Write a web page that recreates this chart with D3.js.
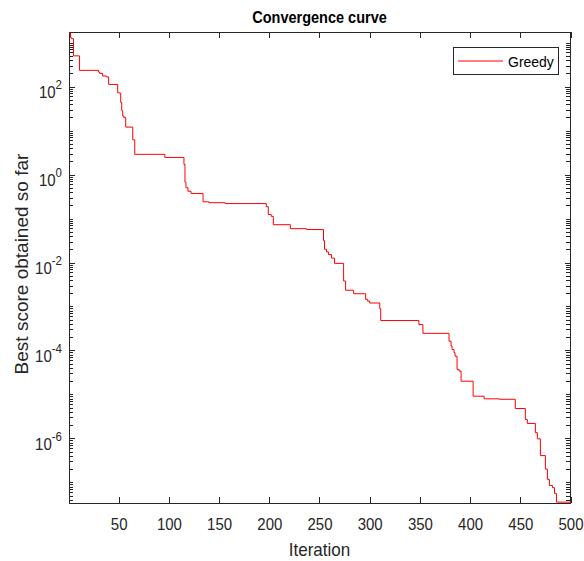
<!DOCTYPE html>
<html>
<head>
<meta charset="utf-8">
<script src="https://cdn.jsdelivr.net/npm/d3@7"></script>
<style>
  body { margin: 0; background: #fff; }
  svg { display: block; font-family: "Liberation Sans", Arial, sans-serif; }
</style>
</head>
<body>
<div class="js-convergence-chart"></div>
<script>
// iterations where the best score changes, and the new best score
var iterations = [
  1, 2, 3, 5, 11, 30, 31, 34, 38, 40, 49, 51, 52, 53, 54, 55, 57, 64, 66, 96,
  115, 116, 117, 119, 122, 134, 140, 156, 197, 199, 202, 204, 221, 237, 254, 255, 257, 259, 262, 265,
  274, 276, 284, 296, 298, 300, 310, 311, 349, 353, 379, 381, 382, 384, 385, 387, 389, 391, 403, 414,
  429, 445, 455, 457, 465, 467, 470, 475, 477, 479, 482, 484, 486, 500
];
var bestScores = [
  1.70e3, 1.29e3, 1.23e3, 5.0e2, 2.34e2, 2.14e2, 2.0e2, 1.74e2, 1.66e2, 1.12e2,
  72.4, 70.8, 43.6, 28.2, 21.4, 20.0, 12.0, 6.17, 2.88, 2.45,
  1.70, 0.676, 0.501, 0.417, 0.372, 0.240, 0.229, 0.219, 0.186, 0.123,
  0.112, 0.0724, 0.0589, 0.0562, 0.0316, 0.0200, 0.0174, 0.0151, 0.0126, 9.55e-3,
  3.80e-3, 2.34e-3, 1.95e-3, 1.45e-3, 1.32e-3, 1.20e-3, 8.91e-4, 4.79e-4, 3.89e-4, 2.45e-4,
  1.62e-4, 1.26e-4, 1.05e-4, 8.91e-5, 7.41e-5, 3.72e-5, 3.39e-5, 2.00e-5, 9.12e-6, 7.94e-6,
  7.76e-6, 4.79e-6, 2.69e-6, 2.19e-6, 1.35e-6, 9.77e-7, 4.07e-7, 2.00e-7, 1.17e-7, 8.51e-8,
  7.59e-8, 5.62e-8, 3.55e-8, 3.31e-8
];
var xTicks = [50, 100, 150, 200, 250, 300, 350, 400, 450, 500];
var yTickExponents = [-6, -4, -2, 0, 2];
var seriesName = 'Greedy';
var titleText = 'Convergence curve'
  , xLabelText = 'Iteration'
  , yLabelText = 'Best score obtained so far';

(function() {
  var width = 584
    , height = 561
    , margin = { top: 32, right: 14, bottom: 58, left: 69 }
    , innerW = width - margin.left - margin.right
    , innerH = height - margin.top - margin.bottom
    , axisColor = '#262626'
    , lineColor = '#ff0000'
    , stretch = 1.1   // text in the original is drawn a little taller than wide
    , data = iterations.map((it, i) => ({ iter: it, score: bestScores[i] }))
    ;

  var x = d3.scaleLinear()
        .domain([1, 500])
        .range([0.5, innerW + 0.5])
    , y = d3.scaleLog()
        .domain(d3.extent(bestScores))
        .range([innerH + 0.5, 0.5])
    , majorY = yTickExponents.map(e => Math.pow(10, e))
    , minorY = []
    ;

  // every m x 10^k inside the domain, except the labelled decades
  for (var k = -9; k <= 4; k++) {
    for (var m = 1; m <= 9; m++) {
      var v = m * Math.pow(10, k);
      if (v < y.domain()[0] || v > y.domain()[1]) continue;
      if (m === 1 && yTickExponents.indexOf(k) >= 0) continue;
      minorY.push(v);
    }
  }

  var svg = d3.select('.js-convergence-chart')
        .append('svg')
          .attr('width', width)
          .attr('height', height)
    , g = svg.append('g')
        .attr('transform', 'translate(' + margin.left + ',' + margin.top + ')')
    ;

  svg.insert('rect', ':first-child')
    .attr('width', width)
    .attr('height', height)
    .attr('fill', '#fff');

  function styleAxis(sel) {
    sel.select('.domain').remove();
    sel.selectAll('line')
      .attr('stroke', axisColor)
      .attr('stroke-width', 1)
      .attr('shape-rendering', 'crispEdges');
    sel.selectAll('text')
      .attr('fill', axisColor)
      .attr('font-size', 15);
  }

  // bottom + top x axes
  g.append('g')
    .attr('transform', 'translate(0,' + innerH + ')')
    .call(d3.axisBottom(x).tickValues(xTicks).tickSizeInner(-6).tickSizeOuter(0))
    .call(styleAxis)
    .selectAll('.tick text')
      .attr('y', 0)
      .attr('dy', 0)
      .attr('transform', 'translate(0,26.5) scale(1,' + stretch + ')');

  g.append('g')
    .call(d3.axisTop(x).tickValues(xTicks).tickSizeInner(-6).tickSizeOuter(0).tickFormat(''))
    .call(styleAxis);

  // left y axis, major ticks with 10^n labels
  var yAxisLeft = g.append('g')
    .call(d3.axisLeft(y).tickValues(majorY).tickSizeInner(-5.5).tickSizeOuter(0))
    .call(styleAxis);

  yAxisLeft.selectAll('.tick text')
    .attr('x', 0)
    .attr('dy', 0)
    .attr('transform', 'translate(-7,11) scale(1,' + stretch + ')')
    .text(null)
    .each(function(d) {
      var t = d3.select(this);
      t.append('tspan').text('10');
      t.append('tspan')
        .attr('dy', -8)
        .attr('font-size', 11.5)
        .text(Math.round(Math.log10(d)));
    });

  g.append('g')
    .call(d3.axisLeft(y).tickValues(minorY).tickSizeInner(-4).tickSizeOuter(0).tickFormat(''))
    .call(styleAxis);

  // right y axis, mirrored ticks
  g.append('g')
    .attr('transform', 'translate(' + innerW + ',0)')
    .call(d3.axisRight(y).tickValues(majorY).tickSizeInner(-5.5).tickSizeOuter(0).tickFormat(''))
    .call(styleAxis);

  g.append('g')
    .attr('transform', 'translate(' + innerW + ',0)')
    .call(d3.axisRight(y).tickValues(minorY).tickSizeInner(-4).tickSizeOuter(0).tickFormat(''))
    .call(styleAxis);

  // box
  g.append('rect')
    .attr('x', 0.5)
    .attr('y', 0.5)
    .attr('width', innerW)
    .attr('height', innerH)
    .attr('fill', 'none')
    .attr('stroke', axisColor)
    .attr('stroke-width', 1)
    .attr('shape-rendering', 'crispEdges');

  // the curve, drawn over the box like the original
  g.append('path')
    .datum(data)
    .attr('fill', 'none')
    .attr('stroke', lineColor)
    .attr('stroke-width', 1)
    .attr('d', d3.line()
      .x(d => x(d.iter))
      .y(d => y(d.score))
      .curve(d3.curveStepAfter)
    );

  // legend
  var gKey = g.append('g')
    .attr('transform', 'translate(' + (innerW - 117) + ',15)');

  gKey.append('rect')
    .attr('x', 0.5)
    .attr('y', 0.5)
    .attr('width', 105)
    .attr('height', 27)
    .attr('fill', '#fff')
    .attr('stroke', axisColor)
    .attr('stroke-width', 1)
    .attr('shape-rendering', 'crispEdges');

  gKey.append('line')
    .attr('x1', 5)
    .attr('x2', 50)
    .attr('y1', 14)
    .attr('y2', 14)
    .attr('stroke', lineColor)
    .attr('stroke-width', 1);

  gKey.append('text')
    .attr('transform', 'translate(55,19.5) scale(1,' + stretch + ')')
    .attr('font-size', 14)
    .attr('fill', '#000')
    .text(seriesName);

  // titles
  svg.append('text')
    .attr('transform', 'translate(' + (margin.left + innerW / 2) + ',23) scale(1,' + stretch + ')')
    .attr('text-anchor', 'middle')
    .attr('font-size', 14.5)
    .attr('font-weight', 'bold')
    .attr('fill', '#000')
    .text(titleText);

  svg.append('text')
    .attr('transform', 'translate(' + (margin.left + innerW / 2) + ',556) scale(1,' + stretch + ')')
    .attr('text-anchor', 'middle')
    .attr('font-size', 17)
    .attr('fill', axisColor)
    .text(xLabelText);

  svg.append('text')
    .attr('transform', 'translate(28,264) rotate(-90)')
    .attr('text-anchor', 'middle')
    .attr('font-size', 19)
    .attr('fill', axisColor)
    .text(yLabelText);
})();
</script>
</body>
</html>
